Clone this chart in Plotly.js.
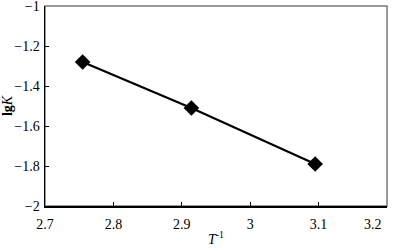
<!DOCTYPE html>
<html>
<head>
<meta charset="utf-8">
<script src="https://cdn.plot.ly/plotly-3.0.1.min.js"></script>
<style>html,body{margin:0;padding:0;background:#fff;}#chart{width:393px;height:251px;}</style>
</head>
<body>
<div id="chart"></div>
<script>
const invT = [2.755, 2.914, 3.095];
const lgK = [-1.28, -1.51, -1.79];
const xTicks = [2.7, 2.8, 2.9, 3.0, 3.1];
const xTickText = ['2.7', '2.8', '2.9', '3', '3.1'];
const xLastLabel = '3.2';
const yTicks = [-2, -1.8, -1.6, -1.4, -1.2, -1];
const yTickText = ['\u22122', '\u22121.8', '\u22121.6', '\u22121.4', '\u22121.2', '\u22121'];

const font = {family: 'Liberation Serif, Times New Roman, serif', size: 14, color: '#000'};

Plotly.newPlot('chart', [{
  x: invT, y: lgK, type: 'scatter', mode: 'lines+markers',
  line: {color: '#000', width: 2.2},
  marker: {symbol: 'diamond', size: 12, color: '#000'},
  hoverinfo: 'skip'
}], {
  width: 393, height: 251,
  margin: {l: 45, r: 6, t: 6, b: 45},
  paper_bgcolor: '#fff', plot_bgcolor: '#fff',
  font: font,
  showlegend: false,
  xaxis: {
    range: [2.7, 3.2], tickvals: xTicks, ticktext: xTickText,
    ticks: 'inside', ticklen: 4, tickcolor: '#000', tickwidth: 1,
    showline: true, linecolor: '#000', linewidth: 1.5, showgrid: false, zeroline: false,
    tickfont: font, ticklabeloverflow: 'allow', ticklabelstandoff: 5,
    title: {text: '<i>T</i><sup>-1</sup>', font: font, standoff: 3}
  },
  yaxis: {
    range: [-2, -1], tickvals: yTicks, ticktext: yTickText,
    ticks: 'inside', ticklen: 4, tickcolor: '#000', tickwidth: 1,
    showline: true, linecolor: '#000', linewidth: 1.5, showgrid: false, zeroline: false,
    tickfont: font, ticklabeloverflow: 'allow', ticklabelstandoff: 1,
    title: {text: '<b>lg</b><i>K</i>', font: font, standoff: 4}
  },
  annotations: [{
    text: xLastLabel, xref: 'paper', yref: 'paper', x: 1, y: 0,
    xanchor: 'right', yanchor: 'top', xshift: -3, yshift: -9,
    showarrow: false, font: font
  }],
  shapes: [{
    type: 'rect', xref: 'paper', yref: 'paper', x0: 0, x1: 1, y0: 0, y1: 1,
    line: {color: '#777', width: 1.5}, layer: 'below'
  }]
}, {displayModeBar: false, staticPlot: true});
</script>
</body>
</html>
